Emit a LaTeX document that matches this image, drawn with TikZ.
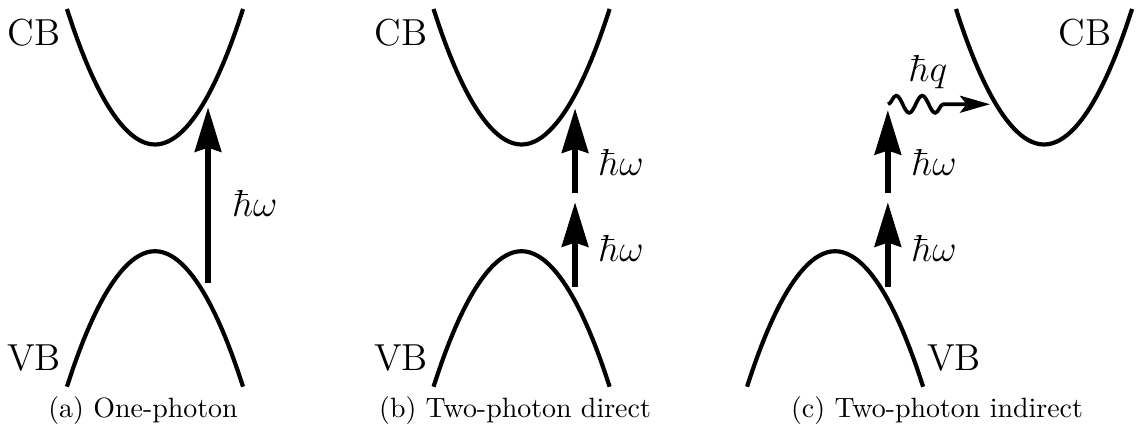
\documentclass[tikz,border=0pt]{standalone}
\usetikzlibrary{arrows.meta,decorations.pathmorphing}
\tikzset{
  band/.style={line width=1.6pt},
  photon/.style={-{Stealth[length=17pt,width=10pt,inset=1.5pt]}, line width=2.5pt},
  phonon/.style={-{Stealth[length=11.5pt,width=6.5pt,inset=2.5pt]}, line width=1.4pt,
    decorate, decoration={snake, amplitude=3.3pt, segment length=0.35cm, post length=0.5cm}},
  lab/.style={font=\Large},
  subcap/.style={font=\fontsize{10.7}{13}\selectfont},
}

\begin{document}
\begin{tikzpicture}
    \useasboundingbox (0,0) rectangle (15.29,5.79);
    % panels (a) and (b): same bands
    \foreach \p/\cx/\lx in {a/2.086/0.458, b/7.02/5.397} {
      \draw[band] (\cx-1.185,5.669) parabola bend (\cx,3.845) (\cx+1.185,5.669);
      \draw[band] (\cx-1.185,0.585) parabola bend (\cx,2.409) (\cx+1.185,0.585);
      \node[lab] (cb\p) at (\lx,5.344) {CB};
      \node[lab] (vb\p) at (\lx,0.969) {VB};
    }
    % (a) one photon
    \coordinate (a0) at (2.80,1.98);
    \coordinate (a1) at (2.80,4.348);
    \draw[photon] (a0) -- (a1);
    \node[lab] (hwa) at (3.432,3.055) {$\hbar\omega$};
    \node[subcap] (capa) at (1.925,0.27) {(a) One-photon};
    % (b) two photons, direct
    \coordinate (b0) at (7.74,1.925);
    \coordinate (b1) at (7.74,3.07);
    \coordinate (b2) at (7.74,3.19);
    \coordinate (b3) at (7.74,4.334);
    \draw[photon] (b0) -- (b1);
    \draw[photon] (b2) -- (b3);
    \node[lab] (hwb1) at (8.359,2.450) {$\hbar\omega$};
    \node[lab] (hwb2) at (8.359,3.607) {$\hbar\omega$};
    \node[subcap] (capb) at (6.932,0.27) {(b) Two-photon direct};
    % (c) two photons, indirect
    \draw[band] (10.055,0.585) parabola bend (11.24,2.409) (12.425,0.585);
    \draw[band] (12.867,5.669) parabola bend (14.052,3.845) (15.237,5.669);
    \node[lab] (cbc) at (14.604,5.344) {CB};
    \node[lab] (vbc) at (12.841,0.969) {VB};
    \coordinate (c0) at (11.95,1.925);
    \coordinate (c1) at (11.95,3.07);
    \coordinate (c2) at (11.95,3.19);
    \coordinate (c3) at (11.95,4.31);
    \draw[photon] (c0) -- (c1);
    \draw[photon] (c2) -- (c3);
    \node[lab] (hwc1) at (12.572,2.450) {$\hbar\omega$};
    \node[lab] (hwc2) at (12.572,3.607) {$\hbar\omega$};
    \coordinate (q0) at (11.953,4.387);
    \coordinate (q1) at (13.325,4.387);
    \draw[phonon] (q0) -- (q1);
    \node[lab] (hq) at (12.491,4.819) {$\hbar q$};
    \node[subcap] (capc) at (12.612,0.27) {(c) Two-photon indirect};
\end{tikzpicture}
\end{document}
